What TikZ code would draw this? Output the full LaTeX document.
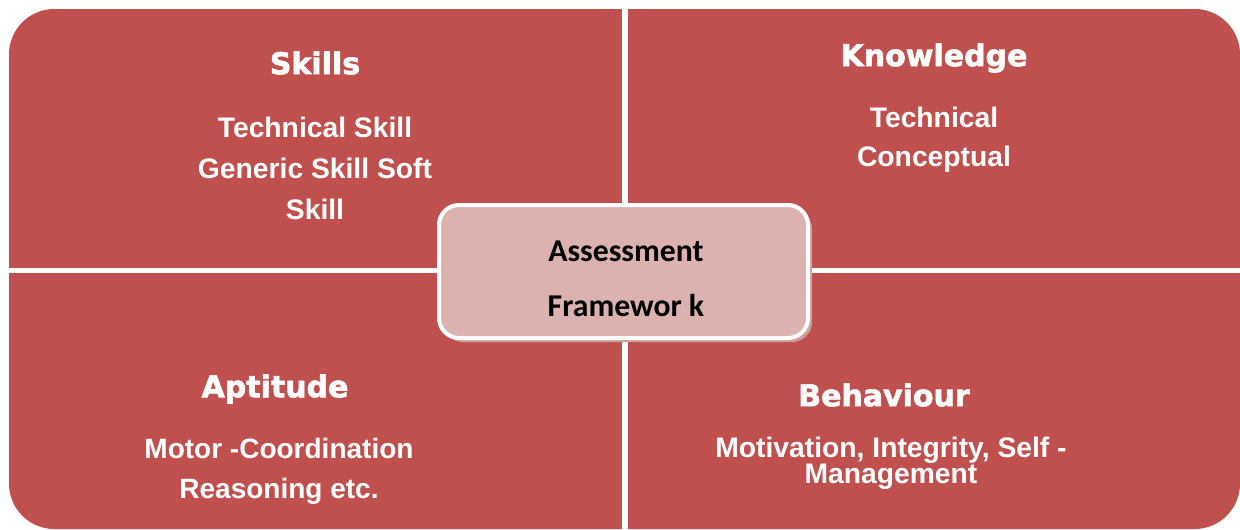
\documentclass[tikz,border=0pt]{standalone}
\usepackage{fontspec}
\setmainfont{Liberation Sans}
\newfontfamily\headfont[UprightFont={* Bold}, FakeBold=2]{DejaVu Sans}
\newfontfamily\hubfont{Carlito}
\usepackage{tikz}
\usetikzlibrary{positioning}
\definecolor{quadred}{HTML}{C0504D}
\definecolor{hubpink}{HTML}{DCB2B1}
\definecolor{hubshade}{HTML}{CF9F9E}

\begin{document}
\begin{tikzpicture}[
	x=0.75pt, y=-0.75pt,
	heading/.style={text=white, font=\headfont\fontsize{22.5}{27}\selectfont},
	bodytext/.style={text=white, align=center, font=\bfseries\fontsize{21.2}{30.75}\selectfont},
	]
	
	\useasboundingbox (0,0) rectangle (1240,529);
	\fill[color=quadred, rounded corners=34pt]
		(9,9) rectangle (1240,529);
	\draw[color=white, line width=4.5pt]
		(624.7,0) -- (624.7,529);
	\draw[color=white, line width=3.75pt]
		(0,270.5) -- (1240,270.5);
	
	\node (skillsHead) [heading] at (315,63) {Skills};
	\node (skillsBody) [bodytext] at (315,168)
		{Technical Skill\\Generic Skill Soft\\Skill};
	\node (knowHead) [heading] at (934,58) {Knowledge};
	\node (knowBody) [bodytext, font=\bfseries\fontsize{21.2}{29}\selectfont] at (934,140)
		{Technical\\Conceptual};
	\node (aptHead) [heading] at (275,389) {Aptitude};
	\node (aptBody) [bodytext, font=\bfseries\fontsize{21}{30}\selectfont] at (279,471)
		{Motor -Coordination\\Reasoning etc.};
	\node (behHead) [heading] at (884,395) {Behaviour};
	\node (behBody) [bodytext, font=\bfseries\fontsize{21.2}{19.5}\selectfont] at (891,463.5)
		{Motivation, Integrity, Self -\\Management};
	
	\fill[color=hubshade, rounded corners=15pt]
		(443,209) rectangle (812,342);
	\node (hub) [draw=white, line width=3pt, fill=hubpink, rounded corners=15pt,
		minimum width=276.75pt, minimum height=99.75pt, inner sep=0pt]
		at (623.5,271.5) {};
	\node (hubText) [align=center, font=\hubfont\bfseries\fontsize{23.8}{41}\selectfont]
		at (626,279) {Assessment\\Framewor k};
\end{tikzpicture}
\end{document}
